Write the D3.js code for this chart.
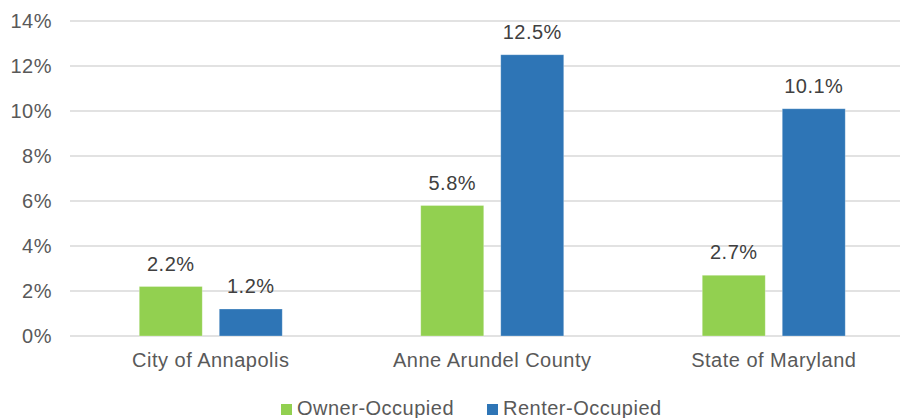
<!DOCTYPE html>
<html>
<head>
<meta charset="utf-8">
<script src="https://cdn.jsdelivr.net/npm/d3@7"></script>
<style>
  body { margin: 0; background: #fff; }
  svg { display: block; font-family: "Liberation Sans", Arial, sans-serif; }
  text { letter-spacing: 0.5px; }
</style>
</head>
<body>
<svg id="chart" width="900" height="418"></svg>
<script>
const categories = ["City of Annapolis", "Anne Arundel County", "State of Maryland"];
const seriesNames = ["Owner-Occupied", "Renter-Occupied"];
const ownerValues = [2.2, 5.8, 2.7];
const renterValues = [1.2, 12.5, 10.1];
const yTicks = [0, 2, 4, 6, 8, 10, 12, 14];
const colors = ["#92D050", "#2E75B6"];

const FS = "20px";
const svg = d3.select("#chart");
const y = d3.scaleLinear().domain([0, 14]).range([336, 21]);
const x0 = d3.scaleBand().domain(categories).range([70, 914.5]).paddingInner(0).paddingOuter(0);
const x1 = d3.scaleBand().domain(seriesNames).range([-71.5, 71.5]).paddingInner(0.2125).paddingOuter(0);

// gridlines
svg.append("g").selectAll("line").data(yTicks).join("line")
  .attr("x1", 70).attr("x2", 914.5)
  .attr("y1", d => y(d)).attr("y2", d => y(d))
  .attr("stroke", "#d9d9d9").attr("stroke-width", 1.3);

// y axis
const yAxis = d3.axisLeft(y).tickValues(yTicks).tickFormat(d => d + "%").tickSize(0).tickPadding(0);
const yg = svg.append("g").attr("transform", "translate(52,0)").call(yAxis);
yg.select(".domain").remove();
yg.selectAll("text").attr("fill", "#595959").attr("font-size", FS)
  .attr("font-family", "'Liberation Sans', Arial, sans-serif");

const data = categories.map((c, i) => ({
  cat: c,
  vals: [{s: seriesNames[0], v: ownerValues[i]}, {s: seriesNames[1], v: renterValues[i]}]
}));

const groups = svg.append("g").selectAll("g").data(data).join("g")
  .attr("transform", d => `translate(${x0(d.cat) + x0.bandwidth() / 2},0)`);

groups.selectAll("rect").data(d => d.vals).join("rect")
  .attr("x", d => x1(d.s))
  .attr("width", x1.bandwidth())
  .attr("y", d => y(d.v))
  .attr("height", d => y(0) - y(d.v))
  .attr("fill", (d, i) => colors[i])
  .attr("stroke", "rgba(255,255,255,0.35)")
  .attr("stroke-width", 0.8);

groups.selectAll("text.lbl").data(d => d.vals).join("text")
  .attr("class", "lbl")
  .attr("x", d => x1(d.s) + x1.bandwidth() / 2)
  .attr("y", d => y(d.v) - 16)
  .attr("text-anchor", "middle")
  .attr("font-size", FS)
  .attr("fill", "#404040")
  .text(d => d.v.toFixed(1) + "%");

// category labels
const xAxis = d3.axisBottom(x0).tickSize(0).tickPadding(0);
const xg = svg.append("g").attr("transform", "translate(0,353)").call(xAxis);
xg.select(".domain").remove();
xg.selectAll("text").attr("fill", "#595959").attr("font-size", FS)
  .attr("font-family", "'Liberation Sans', Arial, sans-serif");

// legend
const legendItems = [{name: seriesNames[0], x: 281}, {name: seriesNames[1], x: 487}];
const lg = svg.append("g").selectAll("g").data(legendItems).join("g")
  .attr("transform", d => `translate(${d.x},0)`);
lg.append("rect").attr("x", 0).attr("y", 404).attr("width", 11).attr("height", 11)
  .attr("fill", (d, i) => colors[i]);
lg.append("text").attr("x", 16).attr("y", 415).attr("font-size", FS)
  .attr("fill", "#595959").text(d => d.name);
</script>
</body>
</html>
